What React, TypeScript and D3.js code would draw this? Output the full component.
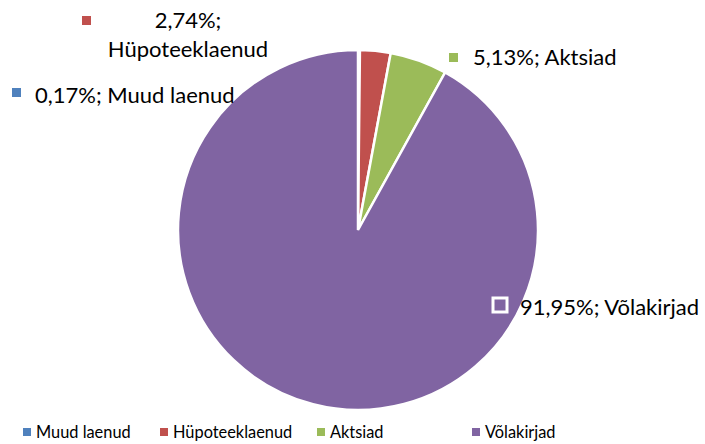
import React from "react";
import * as d3 from "d3";

const categories = ["Muud laenud", "Hüpoteeklaenud", "Aktsiad", "Võlakirjad"];
const values = [0.17, 2.74, 5.13, 91.95];
const valueLabels = ["0,17%", "2,74%", "5,13%", "91,95%"];

const COLORS = ["#4F81BD", "#C0504D", "#9BBB59", "#8064A2"];
const FONT = "Lato, Carlito, 'Liberation Sans', sans-serif";

const W = 705;
const H = 444;
const CX = 358;
const CY = 230;
const R = 180;

export default function App() {
  const pie = d3.pie<number>().sort(null).value((d) => d);
  const arcs = pie(values);
  const arc = d3.arc<d3.PieArcDatum<number>>().innerRadius(0).outerRadius(R);

  const legendX = [23, 160, 317, 472];

  return (
    <svg
      width={W}
      height={H}
      style={{ position: "absolute", left: 0, top: 0, background: "#fff" }}
      fontFamily={FONT}
    >
      <g transform={`translate(${CX},${CY})`}>
        {arcs.map((a, i) => (
          <path key={i} d={arc(a) || ""} fill={COLORS[i]} stroke="#fff" strokeWidth={2.5} />
        ))}
      </g>

      {/* data labels */}
      <g fontSize={22} fill="#000">
        {/* Muud laenud */}
        <rect x={12} y={88} width={9} height={9} fill={COLORS[0]} />
        <text x={35} y={103}>{`${valueLabels[0]}; ${categories[0]}`}</text>

        {/* Hüpoteeklaenud */}
        <rect x={82} y={16} width={9} height={9} fill={COLORS[1]} />
        <text x={188} y={28} textAnchor="middle">{`${valueLabels[1]};`}</text>
        <text x={188} y={57} textAnchor="middle">{categories[1]}</text>

        {/* Aktsiad */}
        <rect x={449} y={53} width={9} height={9} fill={COLORS[2]} />
        <text x={473} y={65}>{`${valueLabels[2]}; ${categories[2]}`}</text>

        {/* Võlakirjad */}
        <rect x={493} y={298} width={14} height={14} fill={COLORS[3]} stroke="#fff" strokeWidth={3} />
        <text x={520} y={315}>{`${valueLabels[3]}; ${categories[3]}`}</text>
      </g>

      {/* legend */}
      <g fontSize={18} fill="#000">
        {categories.map((c, i) => (
          <g key={c}>
            <rect x={legendX[i]} y={428} width={8} height={8} fill={COLORS[i]} />
            <g transform={`translate(${legendX[i] + 13},438) scale(0.91,1)`}>
              <text x={0} y={0}>{c}</text>
            </g>
          </g>
        ))}
      </g>
    </svg>
  );
}
